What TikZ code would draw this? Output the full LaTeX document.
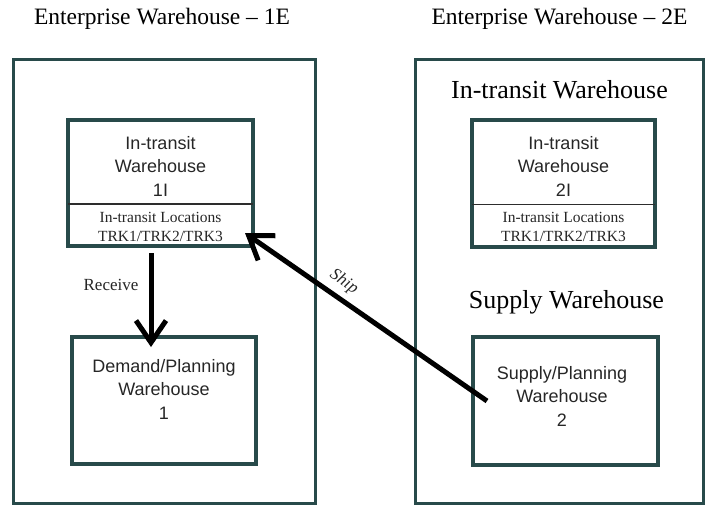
\documentclass[tikz,border=0pt]{standalone}
\usepackage{fontspec}
\setmainfont{Liberation Serif}
\newfontfamily\arialfont{Liberation Sans}
\usetikzlibrary{arrows.meta,calc}
\definecolor{frame}{RGB}{40,74,74}
\definecolor{rule}{RGB}{45,45,45}

\begin{document}
\begin{tikzpicture}[x=1pt,y=-1pt,
  outerbox/.style={draw=frame, line width=3pt, inner sep=0pt, outer sep=0pt},
  innerbox/.style={draw=frame, line width=3.6pt, inner sep=0pt, outer sep=0pt},
  divider/.style={draw=rule, line width=1.4pt},
  title/.style={font=\fontsize{23.5}{28}\selectfont},
  heading/.style={font=\fontsize{26}{31}\selectfont},
  sanslabel/.style={font=\arialfont\fontsize{18}{23.5}\selectfont, align=center, text=black!85},
  loclabel/.style={font=\fontsize{15.5}{19}\selectfont, align=center, text=black!85},
  flowlabel/.style={font=\fontsize{17}{20}\selectfont, text=black!85, inner sep=1pt},
  flow/.style={line width=5pt, -{Straight Barb[length=22pt,width=30pt,line width=5pt]}}]

\useasboundingbox (0,0) rectangle (705,506);

% titles of the two enterprise warehouses
\node[title] (title1) at (162,19) {Enterprise Warehouse \textendash\ 1E};
\node[title] (title2) at (559.5,19) {Enterprise Warehouse \textendash\ 2E};

% enterprise frames
\node[outerbox, minimum width=302pt, minimum height=444pt] (ent1) at (164,281) {};
\node[outerbox, minimum width=288pt, minimum height=444pt] (ent2) at (559,281) {};

% section headings inside enterprise 2E
\node[heading] (head2i) at (559.5,90) {In-transit Warehouse};
\node[heading] (head2s) at (566.5,302) {Supply Warehouse};

% in-transit warehouse 1I
\node[innerbox, minimum width=185pt, minimum height=126pt] (it1) at (160.5,183) {};
\draw[divider] ($(it1.north west)!0.667!(it1.south west)$) -- ($(it1.north east)!0.667!(it1.south east)$);
\node[sanslabel] (it1txt) at (160.5,166) {In-transit\\Warehouse\\1I};
\node[loclabel] (it1loc) at (160.5,226.5) {In-transit Locations\\TRK1/TRK2/TRK3};

% in-transit warehouse 2I
\node[innerbox, minimum width=183pt, minimum height=127pt] (it2) at (563.5,183.5) {};
\draw[divider] ($(it2.north west)!0.667!(it2.south west)$) -- ($(it2.north east)!0.667!(it2.south east)$);
\node[sanslabel] (it2txt) at (563.5,166) {In-transit\\Warehouse\\2I};
\node[loclabel] (it2loc) at (563.5,226.5) {In-transit Locations\\TRK1/TRK2/TRK3};

% demand/planning warehouse 1
\node[innerbox, minimum width=184pt, minimum height=127pt] (dem1) at (164,400.5) {};
\node[sanslabel] (dem1txt) at (164,389) {Demand/Planning\\Warehouse\\1};

% supply/planning warehouse 2
\node[innerbox, minimum width=185pt, minimum height=128pt] (sup2) at (565.5,401) {};
\node[sanslabel] (sup2txt) at (562,396) {Supply/Planning\\Warehouse\\2};

% receive flow
\coordinate (recvfrom) at (151,253);
\coordinate (recvto) at (151,347);
\draw[flow] (recvfrom) -- (recvto);
\node[flowlabel] (recvlbl) at (111,285) {Receive};

% ship flow
\coordinate (shipfrom) at (487,401);
\coordinate (shipto) at (245,233);
\draw[flow] (shipfrom) -- (shipto);
\node[flowlabel, rotate=-34.6] (shiplbl) at (344,282) {\itshape Ship};
\end{tikzpicture}
\end{document}
